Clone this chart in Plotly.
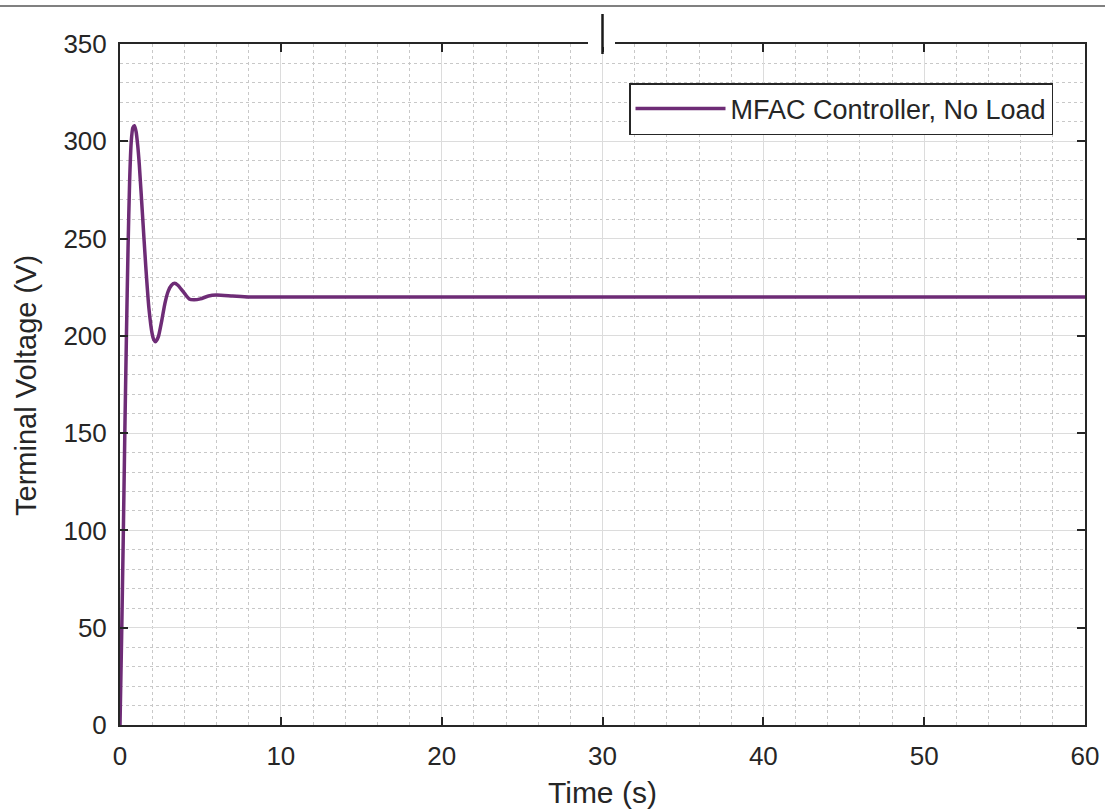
import plotly.graph_objects as go

# Data
time_s = [0, 0.1, 0.2, 0.3, 0.4, 0.5, 0.6, 0.7, 0.8, 0.9, 1.0, 1.1, 1.2, 1.4, 1.6, 1.8, 2.0, 2.1,
          2.2, 2.3, 2.4, 2.6, 2.8, 3.0, 3.2, 3.4, 3.6, 3.8, 4.0, 4.3, 4.6, 5.0, 5.5, 6.0, 7.0, 8.0,
          10, 20, 30, 40, 50, 60]
voltage_v = [0, 45, 95, 150, 200, 245, 280, 300, 307, 308, 305, 298, 288, 262, 236, 214, 201, 198,
             197, 198, 200, 208, 217, 223, 226, 227, 226, 224, 222, 219, 218.5, 219, 220.5, 221, 220.5, 220,
             220, 220, 220, 220, 220, 220]
series_name = "MFAC Controller, No Load"

x_ticks = [0, 10, 20, 30, 40, 50, 60]
y_ticks = [0, 50, 100, 150, 200, 250, 300, 350]

W, H = 1105, 810
L, R, T, B = 120, 20, 44, 85
pw, ph = W - L - R, H - T - B

txt = "#262626"
font = dict(family="Liberation Sans, Arial, sans-serif", size=26, color=txt)

fig = go.Figure()
fig.add_trace(go.Scatter(x=time_s, y=voltage_v, mode="lines", name=series_name,
                         line=dict(color="#6e2c76", width=3.5, shape="spline", smoothing=0.6)))

axis_common = dict(
    showline=True, linecolor="#262626", linewidth=2, mirror="ticks",
    ticks="inside", ticklen=8, tickwidth=1.5, tickcolor="#262626",
    showgrid=True, gridcolor="#dcdcdc", gridwidth=1, zeroline=False,
    tickfont=font, automargin=False,
)

fig.update_xaxes(range=[0, 60], tickvals=x_ticks, ticktext=[str(v) for v in x_ticks],
                 minor=dict(dtick=2, tick0=0, showgrid=True, gridcolor="#c8c8c8", griddash="dot", gridwidth=1),
                 ticklabelstandoff=7, **axis_common)
fig.update_yaxes(range=[0, 350], tickvals=y_ticks, ticktext=[str(v) for v in y_ticks],
                 minor=dict(dtick=10, tick0=0, showgrid=True, gridcolor="#c8c8c8", griddash="dot", gridwidth=1),
                 ticklabelstandoff=6, **axis_common)

fig.update_layout(
    width=W, height=H,
    margin=dict(l=L, r=R, t=T, b=B, autoexpand=False),
    paper_bgcolor="white", plot_bgcolor="white",
    font=font,
    showlegend=True,
    legend=dict(x=(629 - L) / pw, y=(H - B - 83) / ph, xanchor="left", yanchor="top",
                bgcolor="white", bordercolor="#262626", borderwidth=1.5,
                font=dict(font, size=27), itemwidth=90, tracegroupgap=0),
    annotations=[
        dict(text="Time (s)", xref="paper", yref="paper", x=0.5, y=-(793 - (H - B)) / ph,
             xanchor="center", yanchor="middle", showarrow=False, font=dict(font, size=30)),
        dict(text="Terminal Voltage (V)", xref="paper", yref="paper", x=-(L - 26) / pw, y=(H - B - 386) / ph,
             xanchor="center", yanchor="middle", showarrow=False, textangle=-90, font=dict(font, size=29)),
    ],
    shapes=[
        dict(type="line", xref="paper", yref="paper", x0=-L / pw, x1=(W - L) / pw,
             y0=(H - B - 6) / ph, y1=(H - B - 6) / ph, line=dict(color="#808080", width=2)),
        dict(type="rect", xref="paper", yref="paper", x0=(588 - L) / pw, x1=(615 - L) / pw,
             y0=(H - B - 47) / ph, y1=(H - B - 41) / ph, fillcolor="white", line=dict(width=0), layer="above"),
        dict(type="line", xref="x", yref="paper", x0=30, x1=30,
             y0=(H - B - 54) / ph, y1=(H - B - 14) / ph, line=dict(color="#1a1a1a", width=2.5)),
    ],
)

fig.write_html("out.html")
